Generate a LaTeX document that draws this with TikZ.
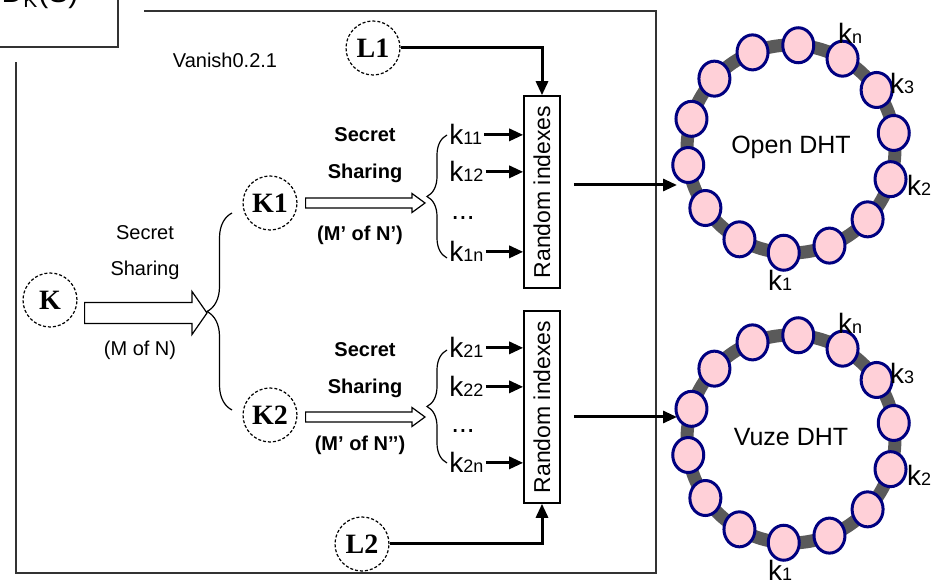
\documentclass[tikz,border=0pt]{standalone}
\usepackage{fontspec}
\setmainfont{Liberation Sans}
\newfontfamily\keyfont{Liberation Serif}
\usetikzlibrary{arrows.meta, calc, decorations.pathreplacing, shapes.geometric}

\definecolor{peerfill}{RGB}{255,208,216}
\definecolor{peerdraw}{RGB}{0,0,128}
\definecolor{ringgray}{RGB}{90,90,90}

\newcommand{\kid}[1]{k{\fontsize{9}{9}\selectfont #1}}
\newcommand{\hollowarrow}[5]{%
  \draw[line width=0.6pt, fill=white] let \p1=(#1), \p2=(#2) in
    (\x1,\y2+#3) -- (\x2-#5,\y2+#3) -- (\x2-#5,\y2+#4) -- (\x2,\y2)
    -- (\x2-#5,\y2-#4) -- (\x2-#5,\y2-#3) -- (\x1,\y2-#3) -- cycle;}

\begin{document}
\begin{tikzpicture}[
  x=0.5pt, y=-0.5pt,
  keynode/.style={circle, draw, dash pattern=on 1.5pt off 1pt, line width=0.6pt, minimum size=27pt, inner sep=0pt, font=\keyfont\bfseries\fontsize{14}{14}\selectfont},
  idxbox/.style={rectangle, draw, line width=0.8pt, minimum width=18pt, minimum height=96pt, inner sep=0pt, font=\fontsize{11.5}{11.5}\selectfont},
  share/.style={font=\fontsize{10}{12}\selectfont},
  sharebf/.style={font=\bfseries\fontsize{10}{12}\selectfont},
  klabel/.style={anchor=base west, inner sep=1pt, font=\fontsize{14}{14}\selectfont},
  kdots/.style={anchor=base, inner sep=1pt, font=\fontsize{14}{14}\selectfont},
  ringlabel/.style={inner sep=0pt, font=\fontsize{14}{14}\selectfont},
  peer/.style={ellipse, draw=peerdraw, fill=peerfill, line width=1.5pt, minimum width=15.5pt, minimum height=17.5pt, inner sep=0pt},
  thickarrow/.style={-{Triangle[length=7pt, width=6pt]}, line width=1.5pt},
  keybrace/.style={decorate, decoration={brace, amplitude=#1}, line width=0.6pt}
]
\useasboundingbox (0,0) rectangle (932,582);

% frame and corner box
\draw[line width=1pt, black!80] (144,11) -- (656,11) -- (656,573) -- (16,573) -- (16,62);
\node[draw, line width=1pt, black!80, minimum width=80pt, minimum height=43.5pt, inner sep=0pt] (dkbox) at (38,3.5) {};
\node[anchor=base, font=\fontsize{15}{15}\selectfont] (dklabel) at (40,3) {D\textsubscript{K}(S)};
\node[share] (version) at (225,60) {Vanish0.2.1};

% keys
\node[keynode] (K) at (50,300) {K};
\node[keynode] (K1) at (270,203) {K1};
\node[keynode] (K2) at (270,415) {K2};
\node[keynode] (L1) at (373,48) {L1};
\node[keynode] (L2) at (362,544) {L2};

% first split
\node[share] (ssa) at (145,233) {Secret};
\node[share] (ssb) at (145,270) {Sharing};
\node[share] (ssc) at (140,350) {(M of N)};
\coordinate (split) at (207,313);
\hollowarrow{[xshift=3.5pt]K.east}{split}{5.25pt}{10.75pt}{7.5pt}
\draw[keybrace=12.5pt] (232,410) -- (232,213);

% second level splits
\node[sharebf] (ss1a) at (365,135) {Secret};
\node[sharebf] (ss1b) at (365,173) {Sharing};
\node[sharebf] (ss1c) at (360,235) {(M’ of N’)};
\node[sharebf] (ss2a) at (365,350) {Secret};
\node[sharebf] (ss2b) at (365,388) {Sharing};
\node[sharebf] (ss2c) at (360,445) {(M’ of N’’)};
\coordinate (split1) at (425,203);
\coordinate (split2) at (425,417);
\hollowarrow{[xshift=4pt]K1.east}{split1}{2.5pt}{4.75pt}{6.5pt}
\hollowarrow{[xshift=4pt]K2.east}{split2}{2.5pt}{4.75pt}{6.5pt}
\draw[keybrace=10pt] (447,258) -- (447,135);
\draw[keybrace=10pt] (447,463) -- (447,350);

% shares
\node[klabel] (k11) at (447,145) {\kid{11}};
\node[klabel] (k12) at (447,182) {\kid{12}};
\node[kdots] (k1d) at (463,220) {...};
\node[klabel] (k1n) at (447,262) {\kid{1n}};
\node[klabel] (k21) at (447,358) {\kid{21}};
\node[klabel] (k22) at (447,397) {\kid{22}};
\node[kdots] (k2d) at (463,433) {...};
\node[klabel] (k2n) at (447,473) {\kid{2n}};

% index boxes
\node[idxbox] (idx1) at (542,192) {\rotatebox{90}{Random indexes}};
\node[idxbox] (idx2) at (542,407) {\rotatebox{90}{Random indexes}};

\draw[thickarrow] (k11.east) -- (k11.east -| idx1.west);
\draw[thickarrow] (k12.east) -- (k12.east -| idx1.west);
\draw[thickarrow] (k1n.east) -- (k1n.east -| idx1.west);
\draw[thickarrow] (k21.east) -- (k21.east -| idx2.west);
\draw[thickarrow] (k22.east) -- (k22.east -| idx2.west);
\draw[thickarrow] (k2n.east) -- (k2n.east -| idx2.west);
\draw[thickarrow] (L1) -| (idx1.north);
\draw[thickarrow] (L2) -| (idx2.south);

% DHT rings
\foreach \r/\cy/\dht in {1/149/Open DHT, 2/439/Vuze DHT} {
  \coordinate (ring\r) at (791,\cy);
  \draw[ringgray, line width=6.5pt] (ring\r) circle[radius=104];
  \foreach \a in {0,...,13}
    \node[peer] (peer\r-\a) at ($(ring\r)+({-86+25.714*\a}:104)$) {};
  \node[ringlabel] (kn\r) at ($(ring\r)+(59,-116)$) {\kid{n}};
  \node[ringlabel] (kthree\r) at ($(ring\r)+(111,-66)$) {\kid{3}};
  \node[ringlabel] (ktwo\r) at ($(ring\r)+(128,36)$) {\kid{2}};
  \node[ringlabel] (kone\r) at ($(ring\r)+(-11,131)$) {\kid{1}};
  \node[font=\fontsize{12.5}{12.5}\selectfont] (dht\r) at ($(ring\r)+(0,-2)$) {\dht};
}
\coordinate (in1) at (677,185);
\coordinate (in2) at (677,417);
\draw[thickarrow] ([shift={(13,-7)}]idx1.east) -- (in1);
\draw[thickarrow] ([shift={(13,10)}]idx2.east) -- (in2);

\end{tikzpicture}
\end{document}
